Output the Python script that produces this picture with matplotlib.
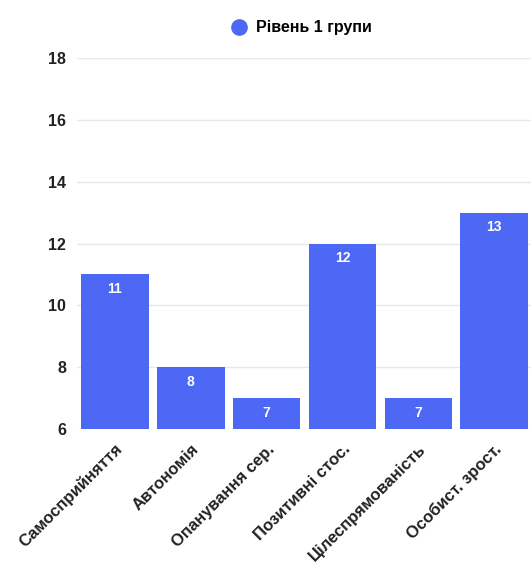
import matplotlib.pyplot as plt
from matplotlib.lines import Line2D

categories = ['Самосприйняття', 'Автономія', 'Опанування сер.',
              'Позитивні стос.', 'Цілеспрямованість', 'Особист. зрост.']
values = [11, 8, 7, 12, 7, 13]
series_name = 'Рівень 1 групи'
yticks = [6, 8, 10, 12, 14, 16, 18]

bar_color = '#4d68f5'
plt.rcParams['font.family'] = ['Liberation Sans', 'DejaVu Sans']

fig = plt.figure(figsize=(5.31, 5.71), dpi=100)
ax = fig.add_axes([0.145, 0.249, 0.857, 0.649])

x = range(len(categories))
bars = ax.bar(x, values, width=0.89, color=bar_color, zorder=2)

# value labels inside top of bars
for b, v in zip(bars, values):
    ax.text(b.get_x() + b.get_width() / 2, v - 0.25, str(v),
            ha='center', va='top', color='white', fontsize=10,
            fontweight='bold', zorder=3)

ax.set_ylim(6, 18)
ax.set_xlim(-0.5, len(categories) - 0.5)
ax.set_yticks(yticks)
ax.set_yticklabels([str(t) for t in yticks], fontsize=11.5, fontweight='bold',
                   color='#222222')
ax.set_xticks(list(x))
ax.set_xticklabels(categories, rotation=45, ha='right', va='top',
                   rotation_mode='anchor', fontsize=12, fontweight='bold',
                   color='#222222')
ax.tick_params(axis='y', length=0, pad=8)
ax.tick_params(axis='x', length=0, pad=9)

ax.grid(axis='y', color='#e8e8e8', linewidth=1, zorder=0)
for s in ax.spines.values():
    s.set_visible(False)

handle = Line2D([], [], marker='o', linestyle='none', markersize=11,
                markerfacecolor=bar_color, markeredgecolor=bar_color)
fig.legend([handle], [series_name], loc='center', bbox_to_anchor=(0.56, 0.951),
           frameon=False, prop={'weight': 'bold', 'size': 11.5},
           handletextpad=0.1, borderaxespad=0)

fig.savefig('out.png', dpi=100, facecolor='white')
